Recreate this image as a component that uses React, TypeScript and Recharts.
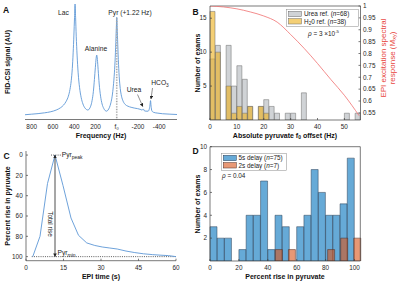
import React from 'react';
import { LineChart, Line, BarChart, Bar, XAxis, YAxis, ReferenceLine } from 'recharts';

const W = 400;
const H = 284;
const FONT = '"Liberation Sans", Arial, Helvetica, sans-serif';
const TICK = { fontSize: 6.4, fill: '#262626', fontFamily: FONT };
const AXIS = { stroke: '#404040', strokeWidth: 0.7 };

// ---------- Panel A: FID-CSI spectrum ----------
const spectrumHz = [863, 800, 740, 680, 620, 570, 530, 500, 475, 455, 440, 428, 418, 410, 403, 397, 392, 387, 381, 373, 363, 350, 335, 318, 300, 285, 270, 258, 245, 232, 220, 210, 201, 194, 188, 182, 175, 165, 152, 138, 122, 108, 95, 82, 68, 55, 43, 32, 22, 14, 7, 2, 0, -3, -8, -15, -23, -33, -45, -60, -80, -105, -135, -165, -195, -220, -240, -250, -258, -275, -295, -305, -313, -318, -323, -330, -345, -380, -430, -500, -567];
const spectrumSignal = [0.3, 0.8, 1.3, 2.0, 3.0, 4.5, 6.5, 9, 12.5, 17, 23, 31, 42, 56, 72, 88, 100, 88, 71, 54, 38, 25, 16, 10, 6.5, 5, 4.5, 5.5, 8, 13, 21, 32, 43, 51, 54, 50, 41, 28, 17, 10, 6, 4, 3.5, 4.5, 7, 11, 17, 26, 38, 52, 70, 83, 88, 82, 68, 50, 35, 24, 17, 12.5, 9.5, 8, 7, 6.3, 5.8, 5.2, 4.5, 5.5, 4, 3.5, 3.5, 5, 9, 13, 8, 4, 2.5, 1.8, 1.2, 0.8, 0.5];
const freqTickValues = [800, 600, 400, 200, 0, -200, -400];
const freqTickLabels = ['800', '600', '400', '200', 'f\u2080', '-200', '-400'];
const pyrPeakHz = 0;
const pyrPeakSignal = 88;

// ---------- Panel B: f0 offset histogram ----------
const offsetBinLabels = ['0-2', '2-4', '4-6', '6-8', '8-10', '10-12', '12-14', '14-16', '16-18', '18-20', '20-22', '22-24', '24-26', '26-28', '28-30', '30-32', '32-34', '34-36', '36-38', '38-40', '40-42', '42-44', '44-46', '46-48', '48-50', '50-52', '52-54', '54-56'];
const ureaCounts = [9, 11, 0, 11, 5, 8, 6, 2, 0, 2, 3, 2, 1, 0, 1, 1, 0, 4, 0, 0, 0, 0, 0, 0, 0, 1, 0, 1];
const waterCounts = [16, 10, 0, 5, 1, 2, 1, 2, 0, 2, 1, 0, 0, 0, 0, 0, 0, 0, 0, 0, 0, 0, 0, 0, 0, 0, 0, 0];
const responseHz = [0, 5, 10, 15, 20, 25, 30, 35, 40, 45, 50, 55.5];
const responseMxy = [1.0, 0.996, 0.988, 0.975, 0.958, 0.932, 0.88, 0.822, 0.758, 0.69, 0.624, 0.538];
const offsetTicks = [0, 10, 20, 30, 40, 50];
const countTicksB = [5, 10, 15];
const mxyTicks = [0.55, 0.6, 0.65, 0.7, 0.75, 0.8, 0.85, 0.9, 0.95, 1];

// ---------- Panel C: pyruvate time course ----------
const epiTime = [2.7, 5.6, 8.6, 11.6, 14.8, 18.0, 21.0, 24.3, 27.5, 30.5, 33.5, 36.5, 40, 43.5, 47, 50.5, 54, 57, 60];
const riseValue = [100, 80, 28, 0, 30, 62, 79, 86.5, 89, 90.5, 91.5, 92.5, 94.5, 96, 97.2, 98, 98.6, 99, 100];
const timeTicks = [0, 15, 30, 45, 60];
const riseTicks = [0, 20, 40, 60, 80, 100];
const peakTime = 11.6;

// ---------- Panel D: percent rise histogram ----------
const fiveSecBins = ['0-5', '5-10', '10-15', '15-20', '20-25', '25-30', '30-35', '35-40', '40-45', '45-50', '50-55', '55-60', '60-65', '65-70', '70-75', '75-80', '80-85', '85-90', '90-95', '95-100'];
const fiveSecCounts = [3, 2, 2, 0, 1, 4, 4, 7, 1, 4, 3, 0, 3, 4, 8, 6, 4, 4, 5, 9];
const twoSecCounts = [0, 0, 0, 0, 0, 0, 0, 0, 0, 0, 1, 0, 1, 0, 0, 0, 0, 0, 1, 0, 2, 0, 2];
const percentTicks = [0, 20, 40, 60, 80, 100];
const countTicksD = [2, 4, 6, 8, 10];

const spectrumData = spectrumHz.map((hz, i) => ({ hz, signal: spectrumSignal[i] }));
const offsetData = offsetBinLabels.map((bin, i) => ({ bin, urea: ureaCounts[i], water: waterCounts[i] }));
const responseData = responseHz.map((hz, i) => ({ hz, m: responseMxy[i] }));
const riseData = epiTime.map((t, i) => ({ t, rise: riseValue[i] }));
const fiveSecData = fiveSecBins.map((bin, i) => ({ bin, n: fiveSecCounts[i], x: i * 5 + 2.5 }));
const twoSecData = twoSecCounts.map((n, i) => ({ bin: String(i), n }));

const Layer: React.FC<{ children: React.ReactNode }> = ({ children }) => (
  <div style={{ position: 'absolute', left: 0, top: 0, width: W, height: H }}>{children}</div>
);

const GRAY = '#a9aeb5';
const YELLOW = '#edb120';
const BLUE = '#0072bd';
const ORANGE = '#d95319';
const LINE_BLUE = '#5e97d6';
const RED = '#f07070';

export default function App() {
  return (
    <div style={{ position: 'absolute', left: 0, top: 0, width: W, height: H, background: '#fff', overflow: 'hidden' }}>
      {/* Panel A */}
      <Layer>
        <LineChart width={W} height={H} data={spectrumData} margin={{ left: 25, right: 223, top: 4, bottom: 152.5 }}>
          <XAxis dataKey="hz" type="number" domain={[-567, 863]} reversed allowDataOverflow ticks={freqTickValues}
            interval={0} tickFormatter={(v: number) => freqTickLabels[freqTickValues.indexOf(v)] ?? String(v)}
            height={12} tickSize={0} tickLine={false} tickMargin={5.2} axisLine={AXIS} tick={TICK} />
          <YAxis hide width={0} domain={[-4, 100]} allowDataOverflow />
          <Line dataKey="signal" type="monotone" stroke={LINE_BLUE} strokeWidth={0.9} dot={false} isAnimationActive={false} />
          <ReferenceLine segment={[{ x: pyrPeakHz, y: -4 }, { x: pyrPeakHz, y: pyrPeakSignal }]} stroke="#a8a8a8" strokeWidth={1.6} strokeDasharray="0.8 0.8" />
        </LineChart>
      </Layer>

      {/* Panel B bars */}
      <Layer>
        <BarChart width={W} height={H} data={offsetData} margin={{ left: 210, right: 39.5, top: 6, bottom: 164 }} barCategoryGap={0} barGap={0}>
          <XAxis xAxisId="u" dataKey="bin" hide height={0} />
          <XAxis xAxisId="w" dataKey="bin" hide height={0} />
          <YAxis hide width={0} domain={[0, 16.8]} allowDataOverflow />
          <Bar xAxisId="u" dataKey="urea" fill={GRAY} fillOpacity={0.55} stroke="#6a6a6a" strokeWidth={0.5} isAnimationActive={false} />
          <Bar xAxisId="w" dataKey="water" fill={YELLOW} fillOpacity={0.62} stroke="#6a6a6a" strokeWidth={0.5} isAnimationActive={false} />
        </BarChart>
      </Layer>

      {/* Panel B axes + excitation response */}
      <Layer>
        <LineChart width={W} height={H} data={responseData} margin={{ left: 196, right: 19.5, top: 6, bottom: 150 }}>
          <XAxis dataKey="hz" type="number" domain={[0, 56]} allowDataOverflow ticks={offsetTicks} interval={0}
            height={14} tickSize={-2} tickMargin={6.3} axisLine={AXIS} tickLine={AXIS} tick={TICK} />
          <YAxis yAxisId="L" type="number" domain={[0, 16.8]} allowDataOverflow ticks={countTicksB} interval={0}
            width={14} tickSize={-2} tickMargin={5.5} axisLine={AXIS} tickLine={AXIS} tick={TICK} />
          <YAxis yAxisId="R" orientation="right" type="number" domain={[0.52, 1]} allowDataOverflow ticks={mxyTicks} interval={0}
            width={20} tickSize={-2} tickMargin={4.5} axisLine={AXIS} tickLine={AXIS} tick={TICK} />
          <ReferenceLine yAxisId="R" y={1} stroke="#404040" strokeWidth={0.7} />
          <Line yAxisId="R" dataKey="m" type="monotone" stroke={RED} strokeWidth={0.8} dot={false} isAnimationActive={false} />
        </LineChart>
      </Layer>

      {/* Panel C */}
      <Layer>
        <LineChart width={W} height={H} data={riseData} margin={{ left: 10, right: 224, top: 151, bottom: 9.3 }}>
          <XAxis dataKey="t" type="number" domain={[0, 60]} allowDataOverflow ticks={timeTicks} interval={0}
            height={14} tickSize={-2} tickMargin={6.4} axisLine={AXIS} tickLine={AXIS} tick={TICK} />
          <YAxis type="number" reversed domain={[-4, 104]} allowDataOverflow ticks={riseTicks} interval={0}
            width={16} tickSize={-2} tickMargin={5.3} axisLine={AXIS} tickLine={AXIS} tick={TICK} />
          <ReferenceLine segment={[{ x: 2.3, y: 100 }, { x: 60, y: 100 }]} stroke="#333" strokeWidth={0.8} strokeDasharray="1 1.2" />
          <ReferenceLine segment={[{ x: 10, y: 0 }, { x: 14.2, y: 0 }]} stroke="#333" strokeWidth={0.8} strokeDasharray="1 1.2" />
          <Line dataKey="rise" type="linear" stroke={LINE_BLUE} strokeWidth={0.9} dot={false} isAnimationActive={false} />
          <ReferenceLine segment={[{ x: peakTime, y: 0 }, { x: peakTime, y: 100 }]} stroke="#222" strokeWidth={0.8}
            markerStart="url(#arrowHead)" markerEnd="url(#arrowHead)" />
        </LineChart>
      </Layer>

      {/* Panel D bars: 5 s delay */}
      <Layer>
        <BarChart width={W} height={H} data={fiveSecData} margin={{ left: 210, right: 45.5, top: 146.7, bottom: 23 }} barCategoryGap={0}>
          <XAxis dataKey="bin" hide height={0} />
          <YAxis hide width={0} domain={[0, 10]} allowDataOverflow />
          <Bar dataKey="n" fill={BLUE} fillOpacity={0.6} stroke="#2b3d52" strokeWidth={0.5} isAnimationActive={false} />
        </BarChart>
      </Layer>

      {/* Panel D bars: 2 s delay */}
      <Layer>
        <BarChart width={W} height={H} data={twoSecData} margin={{ left: 210, right: 39.7, top: 146.7, bottom: 23 }} barCategoryGap={0}>
          <XAxis dataKey="bin" hide height={0} />
          <YAxis hide width={0} domain={[0, 10]} allowDataOverflow />
          <Bar dataKey="n" fill={ORANGE} fillOpacity={0.6} stroke="#4a2b22" strokeWidth={0.5} isAnimationActive={false} />
        </BarChart>
      </Layer>

      {/* Panel D axes */}
      <Layer>
        <LineChart width={W} height={H} data={fiveSecData} margin={{ left: 196, right: 39.7, top: 146.7, bottom: 9 }}>
          <XAxis dataKey="x" type="number" domain={[0, 104]} allowDataOverflow ticks={percentTicks} interval={0}
            height={14} tickSize={-2} tickMargin={6.2} axisLine={AXIS} tickLine={AXIS} tick={TICK} />
          <YAxis type="number" domain={[0, 10]} allowDataOverflow ticks={countTicksD} interval={0}
            width={14} tickSize={-2} tickMargin={5} axisLine={AXIS} tickLine={AXIS} tick={TICK} />
          <ReferenceLine y={10} stroke="#404040" strokeWidth={0.7} />
          <ReferenceLine x={104} stroke="#404040" strokeWidth={0.7} />
        </LineChart>
      </Layer>

      {/* Text overlay */}
      <svg width={W} height={H} style={{ position: 'absolute', left: 0, top: 0, pointerEvents: 'none' }} fontFamily={FONT}>
        <defs>
          <marker id="arrowHead" viewBox="0 0 10 10" refX="9" refY="5" markerWidth="3.6" markerHeight="3.6"
            orient="auto-start-reverse" markerUnits="userSpaceOnUse">
            <path d="M0,0 L10,5 L0,10 z" fill="#222" />
          </marker>
        </defs>

        {/* panel letters */}
        <g fontWeight="bold" fontSize={8.5} fill="#111">
          <text x={3} y={13}>A</text>
          <text x={192.5} y={15}>B</text>
          <text x={3.5} y={158.5}>C</text>
          <text x={192.5} y={153.5}>D</text>
        </g>

        {/* axis titles */}
        <g fontWeight="bold" fontSize={7} fill="#111" textAnchor="middle">
          <text transform="translate(7.5,62) rotate(-90)" dominantBaseline="central">FID-CSI signal (AU)</text>
          <text x={101} y={137.5}>Frequency (Hz)</text>
          <text transform="translate(197.5,63) rotate(-90)" dominantBaseline="central">Number of exams</text>
          <text x={285} y={137.5}>Absolute pyruvate f<tspan fontSize={5} dy={1.5}>0</tspan><tspan dy={-1.5}> offset (Hz)</tspan></text>
          <text transform="translate(7.5,206) rotate(-90)" dominantBaseline="central">Percent rise in pyruvate</text>
          <text x={101} y={279}>EPI time (s)</text>
          <text transform="translate(197.5,204) rotate(-90)" dominantBaseline="central">Number of exams</text>
          <text x={285} y={279}>Percent rise in pyruvate</text>
        </g>

        {/* right axis title B */}
        <g fontSize={8} fill="#e8453c" textAnchor="middle">
          <text transform="translate(383.5,58) rotate(-90)" dominantBaseline="central">EPI excitation spectral</text>
          <text transform="translate(392,58) rotate(-90)" dominantBaseline="central">response (M<tspan fontSize={5.5} dy={1.8}>xy</tspan><tspan dy={-1.8}>)</tspan></text>
        </g>

        {/* Panel A annotations */}
        <g fontSize={6.7} fill="#222" textAnchor="middle">
          <text x={63.5} y={15}>Lac</text>
          <text x={96} y={51}>Alanine</text>
          <text x={130} y={15}>Pyr (+1.22 Hz)</text>
          <text x={134} y={92}>Urea</text>
          <text x={160} y={85}>HCO<tspan fontSize={4.8} dy={1.5}>3</tspan></text>
        </g>
        <line x1={137.5} y1={94.5} x2={142.8} y2={106.5} stroke="#222" strokeWidth={0.5} markerEnd="url(#arrowHead)" />
        <line x1={152.5} y1={88} x2={151} y2={99} stroke="#222" strokeWidth={0.5} markerEnd="url(#arrowHead)" />

        {/* Panel B legend */}
        <rect x={286.7} y={9.3} width={71.6} height={17.4} fill="#fff" stroke="#8a8a8a" strokeWidth={0.5} />
        <rect x={288.5} y={11.3} width={13} height={5.4} fill={GRAY} fillOpacity={0.55} stroke="#6a6a6a" strokeWidth={0.5} />
        <rect x={288.5} y={18.6} width={13} height={5.4} fill={YELLOW} fillOpacity={0.62} stroke="#6a6a6a" strokeWidth={0.5} />
        <g fontSize={6.4} fill="#222">
          <text x={304} y={16.3}>Urea ref. (<tspan fontStyle="italic">n</tspan>=68)</text>
          <text x={304} y={23.6}>H<tspan fontSize={4.6} dy={1.3}>2</tspan><tspan dy={-1.3}>0 ref. (</tspan><tspan fontStyle="italic">n</tspan>=38)</text>
          <text x={308} y={35.5}><tspan fontStyle="italic">ρ</tspan> = 3 ×10<tspan fontSize={4.4} dy={-2.5}>-5</tspan></text>
        </g>

        {/* Panel C annotations */}
        <g fontSize={6.7} fill="#222">
          <text x={61.7} y={157.3}>Pyr<tspan fontSize={5} dy={1.5}>peak</tspan></text>
          <text x={57.5} y={255}>Pyr<tspan fontSize={5} dy={1.5}>min</tspan></text>
          <text transform="translate(50.5,224) rotate(90)" textAnchor="middle" dominantBaseline="central" fontSize={6.4}>Total rise</text>
        </g>

        {/* Panel D legend */}
        <rect x={221.7} y={153.3} width={65} height={17.4} fill="#fff" stroke="#8a8a8a" strokeWidth={0.5} />
        <rect x={223.3} y={155.3} width={13} height={5.4} fill={BLUE} fillOpacity={0.6} stroke="#2b3d52" strokeWidth={0.5} />
        <rect x={223.3} y={162.6} width={13} height={5.4} fill={ORANGE} fillOpacity={0.6} stroke="#4a2b22" strokeWidth={0.5} />
        <g fontSize={6.4} fill="#222">
          <text x={238.5} y={160.3}>5s delay (<tspan fontStyle="italic">n</tspan>=75)</text>
          <text x={238.5} y={167.6}>2s delay (<tspan fontStyle="italic">n</tspan>=7)</text>
          <text x={222} y={178.3}><tspan fontStyle="italic">ρ</tspan> = 0.04</text>
        </g>
      </svg>
    </div>
  );
}
